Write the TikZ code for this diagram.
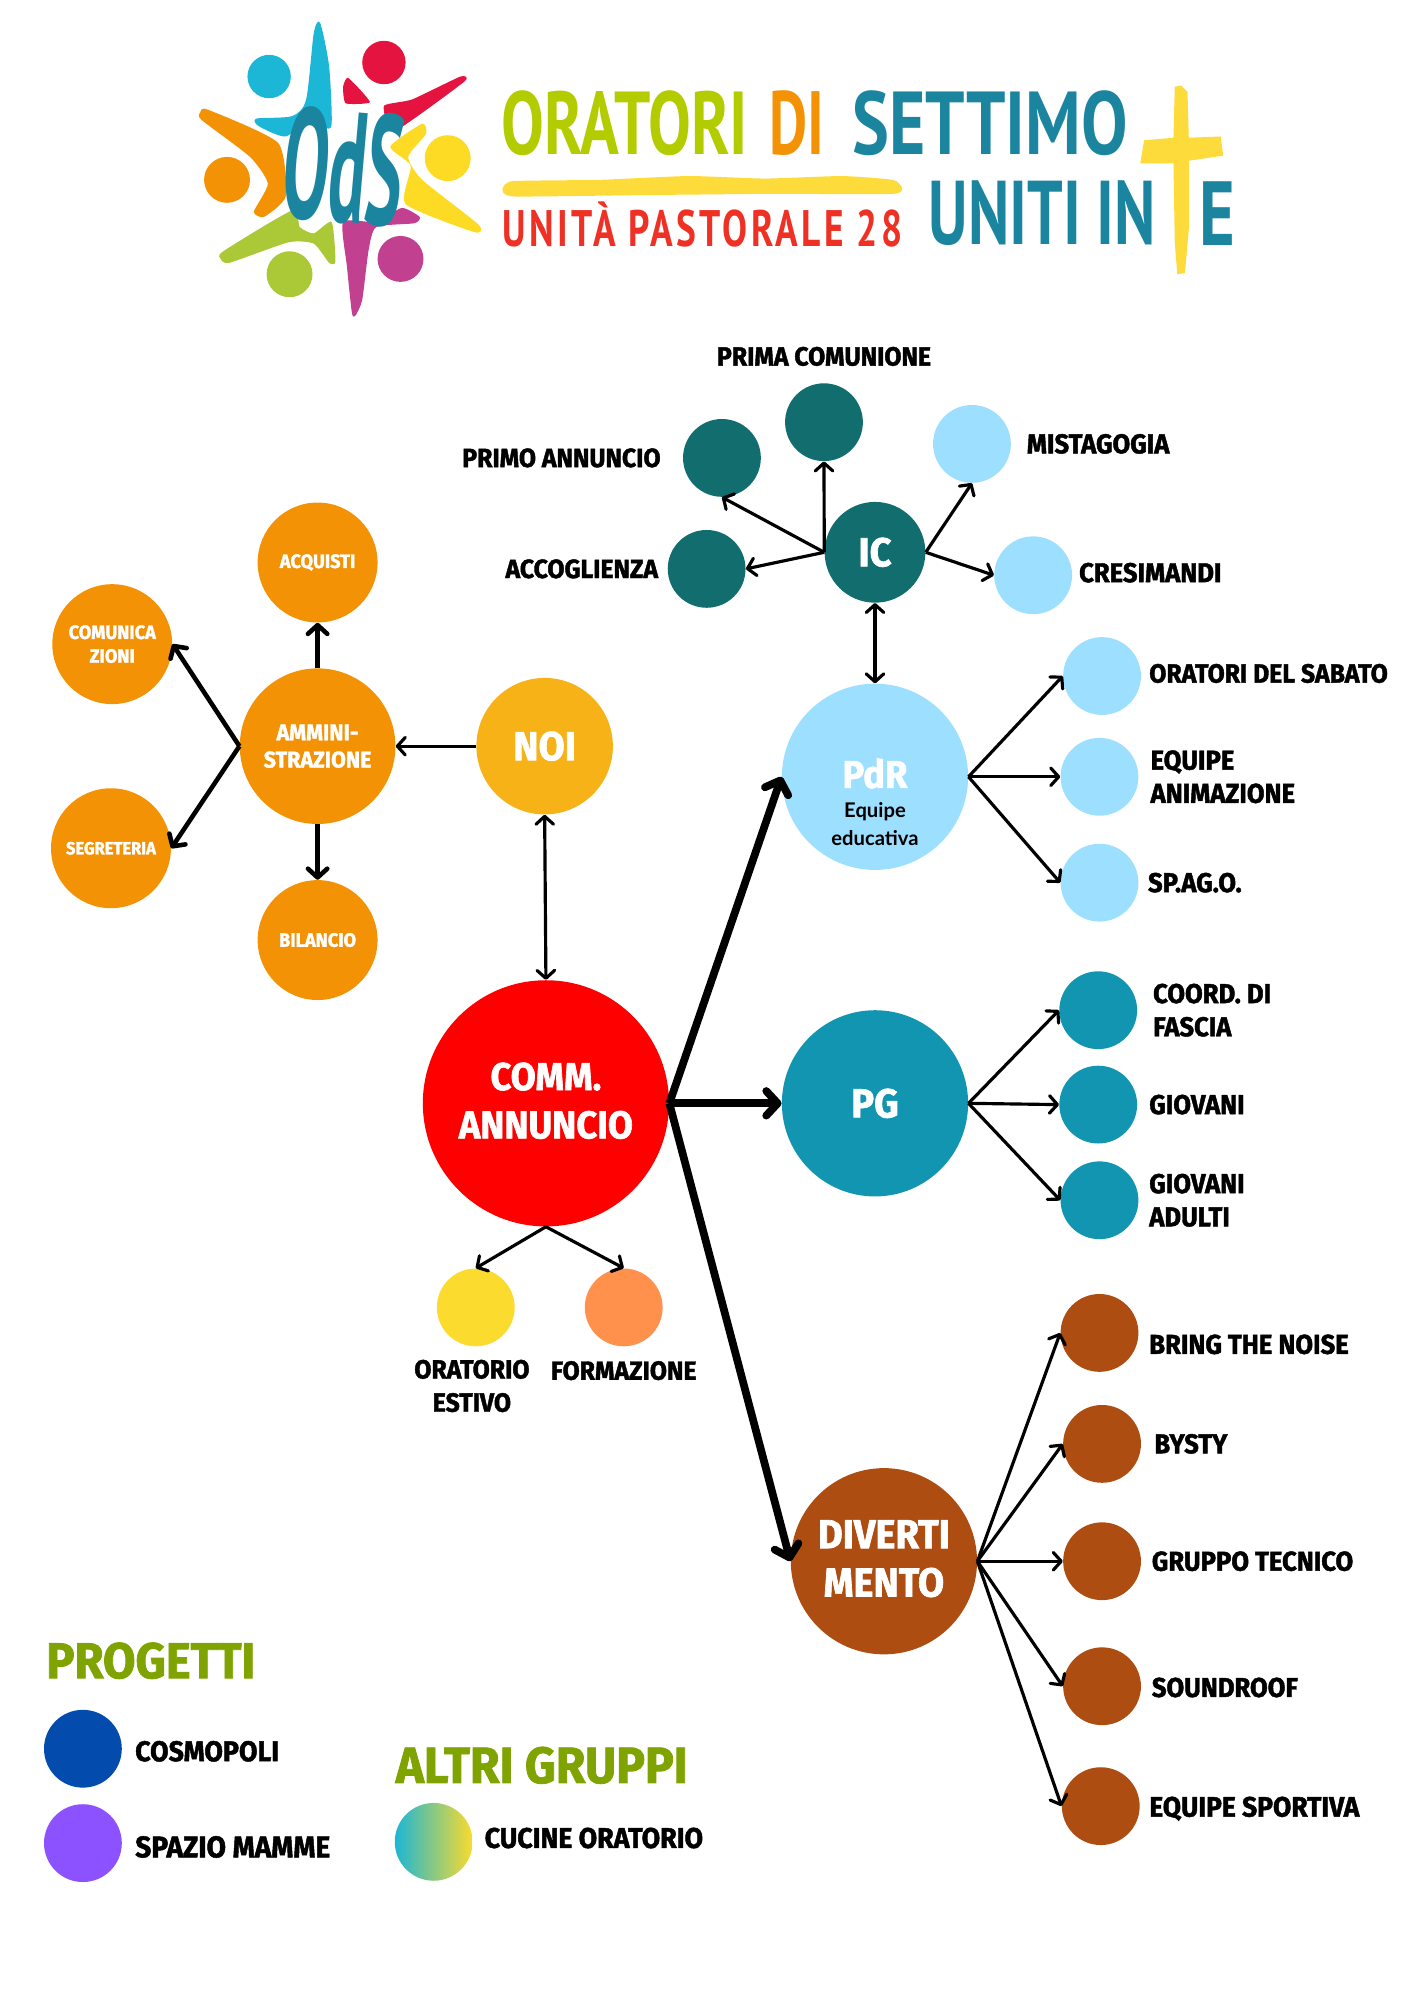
\documentclass[tikz,border=0pt]{standalone}
\usepackage{fontspec}
\setmainfont{Fira Sans}[BoldFeatures={FakeBold=1.6,FakeStretch=.94}]
\newfontfamily\logofont{PT Sans}
\newfontfamily\notefont{Lato}
\usetikzlibrary{arrows.meta, positioning, calc}

\newdimen\pxu
\pxu=0.0255cm
\newcommand{\logotext}[3]{\resizebox{#1\pxu}{#2\pxu}{\logofont\bfseries #3}}
\newcommand{\notetext}[1]{{\notefont\fontsize{11.5}{16.5}\selectfont\bfseries\color{black}#1}}

\definecolor{orangeadm}{HTML}{F39205}
\definecolor{yellownoi}{HTML}{F6B216}
\definecolor{yellowest}{HTML}{FADB2E}
\definecolor{orangefor}{HTML}{FF914D}
\definecolor{lightblue}{HTML}{9CDFFF}
\definecolor{bluepg}{HTML}{1295B0}
\definecolor{tealic}{HTML}{126E6E}
\definecolor{browndiv}{HTML}{AE4D11}
\definecolor{bluecos}{HTML}{034CAD}
\definecolor{violetsp}{HTML}{8C52FF}
\definecolor{greenhead}{HTML}{7FA300}
\definecolor{logoteal}{HTML}{1B85A0}
\definecolor{logoblue}{HTML}{1CB6D6}
\definecolor{logored}{HTML}{E5133F}
\definecolor{logoyellow}{HTML}{FDDB24}
\definecolor{logogreen}{HTML}{ABC837}
\definecolor{logolime}{HTML}{B2CC00}
\definecolor{logomagenta}{HTML}{C14190}
\definecolor{logoscarlet}{HTML}{EE3124}
\definecolor{logobrush}{HTML}{FDDB3A}

\begin{document}
\begin{tikzpicture}[
    x=0.0255cm, y=-0.0255cm,
    dot/.style={circle, inner sep=0pt, minimum size=61\pxu, align=center, text=white, font=\bfseries},
    smalldot/.style={dot, fill=orangeadm, minimum size=94\pxu, font=\fontsize{11}{13.5}\bfseries\selectfont},
    bigdot/.style={dot, minimum size=146\pxu, font=\fontsize{23}{27.5}\bfseries\selectfont},
    tag/.style={inner sep=0pt, align=left, text=black, font=\fontsize{15.5}{18.9}\bfseries\selectfont},
    lefttag/.style={tag, font=\fontsize{15}{18.9}\bfseries\selectfont},
    legendtag/.style={tag, font=\fontsize{16.2}{18.9}\bfseries\selectfont},
    headline/.style={inner sep=0pt, anchor=west, text=greenhead, font=\bfseries},
    thin arrow/.style={->, line width=1.8pt, >={Straight Barb[length=4.5pt, width=10pt, round]}},
    mid arrow/.style={->, line width=2.6pt, >={Straight Barb[length=5pt, width=11pt, round]}},
    big arrow/.style={->, line width=4.4pt, >={Straight Barb[length=6.5pt, width=14pt, round]}}
]
    \useasboundingbox (0,0) rectangle (1109,1568);

    % Logo figures
    \fill[logoblue] (211,60) circle (17);
    \fill[logoblue] plot[smooth cycle, tension=.45] coordinates {(251,18) (258,52) (260,97) (254,100) (240,94) (224,107) (203,99) (201,93) (229,91) (240,78) (246,26)};
    \fill[logored] (301,49) circle (17);
    \fill[logored] plot[smooth cycle, tension=.3] coordinates {(361,60) (364,64) (309,103) (301,83) (323,78)};
    \fill[logored] plot[smooth cycle, tension=.3] coordinates {(273,61) (290,80) (271,81) (269,68)};
    \fill[logoyellow] (351,124) circle (18);
    \fill[logoyellow] plot[smooth cycle, tension=.35] coordinates {(331,97) (334,105) (320,123) (331,141) (375,176) (372,182) (318,160) (322,130) (306,115)};
    \fill[orangeadm] (178,141) circle (18);
    \fill[orangeadm] plot[smooth cycle, tension=.35] coordinates {(157,88) (163,86) (218,112) (224,154) (207,170) (199,166) (210,144) (196,123) (158,94)};
    \fill[logogreen] (227,215) circle (18);
    \fill[logogreen] plot[smooth cycle, tension=.35] coordinates {(229,165) (235,178) (246,183) (260,174) (263,205) (258,206) (246,191) (226,190) (180,206) (173,203) (175,197)};
    \fill[logomagenta] (314,203) circle (18);
    \fill[logomagenta] plot[smooth cycle, tension=.35] coordinates {(269,174) (295,174) (315,163) (329,170) (325,175) (295,178) (289,196) (284,235) (279,247) (276,246) (272,209)};
    \node[inner sep=0pt, text=logoteal, rotate=-5] (logomark) at (270,131) {\resizebox{94\pxu}{88\pxu}{\logofont\bfseries OdS}};

    % Logo lettering
    \fill[logobrush] plot[smooth cycle, tension=.3] coordinates {(394,148) (402,142) (470,141) (540,138) (600,140) (660,138) (700,141) (707,147) (700,152) (600,152) (500,153) (402,154)};
    \fill[logobrush] (921,68) -- (926,67) -- (931,72) -- (932,108) -- (957,107) -- (959,122) -- (932,126) -- (932,180) -- (929,214) -- (923,215) -- (921,190) -- (920,128) -- (894,128) -- (897,110) -- (920,108) -- cycle;
    \node[inner sep=0pt, anchor=south west, text=logolime] (oratori) at (393,122) {\logotext{193}{50}{ORATORI}};
    \node[inner sep=0pt, anchor=south west, text=orangeadm] (di) at (603,122) {\logotext{43}{50}{DI}};
    \node[inner sep=0pt, anchor=south west, text=logoteal] (settimo) at (668,122) {\logotext{216}{50}{SETTIMO}};
    \node[inner sep=0pt, anchor=south west, text=logoscarlet] (unita) at (394,194) {\logotext{313}{35}{\addfontfeature{LetterSpace=9}UNITÀ PASTORALE 28}};
    \node[inner sep=0pt, anchor=south west, text=logoteal] (uniti) at (728,193) {\logotext{178}{50}{UNITI IN}};
    \node[inner sep=0pt, anchor=south west, text=logoteal] (lettere) at (940,193) {\logotext{28}{50}{E}};

    % Amministrazione and NOI
    \node[dot, fill=yellownoi, minimum size=107\pxu, font=\fontsize{23}{27}\bfseries\selectfont] (noi) at (427,585) {NOI};
    \node[dot, fill=orangeadm, minimum size=122\pxu, font=\fontsize{13}{15.5}\bfseries\selectfont] (amm) at (249,585) {AMMINI-\\STRAZIONE};
    \node[smalldot] (acquisti) at (249,441) {ACQUISTI};
    \node[smalldot] (comunica) at (88,505) {COMUNICA\\ZIONI};
    \node[smalldot, font=\fontsize{10}{13.5}\bfseries\selectfont] (segreteria) at (87,665) {SEGRETERIA};
    \node[smalldot] (bilancio) at (249,737) {BILANCIO};

    % Commissione
    \node[dot, fill=red, minimum size=193\pxu] (comm) at (428,865) {};
    \node[inner sep=0pt, align=center, text=white, font=\fontsize{22}{27.5}\bfseries\selectfont] (commtext) at (428,863) {COMM.\\ANNUNCIO};
    \node[dot, fill=yellowest] (estivo) at (373,1025) {};
    \node[dot, fill=orangefor] (formazione) at (489,1025) {};
    \node[lefttag, align=center, below=10\pxu of estivo, xshift=-3\pxu] (estivotag) {ORATORIO\\ESTIVO};
    \node[lefttag, below=11\pxu of formazione] (formazionetag) {FORMAZIONE};

    % IC
    \node[dot, fill=tealic, minimum size=79\pxu, font=\fontsize{23}{25}\bfseries\selectfont] (ic) at (686,433) {IC};
    \node[dot, fill=tealic] (accoglienza) at (554,446) {};
    \node[dot, fill=tealic] (primo) at (566,359) {};
    \node[dot, fill=tealic] (prima) at (646,331) {};
    \node[dot, fill=lightblue] (mistagogia) at (762,348) {};
    \node[dot, fill=lightblue] (cresimandi) at (810,451) {};
    \node[lefttag, left=7\pxu of accoglienza] (accoglienzatag) {ACCOGLIENZA};
    \node[lefttag, left=17\pxu of primo] (primotag) {PRIMO ANNUNCIO};
    \node[lefttag, above=13\pxu of prima] (primatag) {PRIMA COMUNIONE};
    \node[tag, right=12\pxu of mistagogia] (mistagogiatag) {MISTAGOGIA};
    \node[tag, right=5\pxu of cresimandi, yshift=2\pxu] (cresimanditag) {CRESIMANDI};

    % PdR
    \node[bigdot, fill=lightblue] (pdr) at (686,609) {};
    \node[inner sep=0pt, align=center, text=white, font=\fontsize{22}{27.5}\bfseries\selectfont] (pdrtext) at (686,629) {PdR\\[-10.5pt]\notetext{Equipe}\\[-11.5pt]\notetext{educativa}};
    \node[dot, fill=lightblue] (sabato) at (864,530) {};
    \node[dot, fill=lightblue] (animazione) at (862,609) {};
    \node[dot, fill=lightblue] (spago) at (862,692) {};
    \node[lefttag, right=6\pxu of sabato, yshift=2\pxu] (sabatotag) {ORATORI DEL SABATO};
    \node[tag, right=9\pxu of animazione] (animazionetag) {EQUIPE\\ANIMAZIONE};
    \node[tag, right=7\pxu of spago] (spagotag) {SP.AG.O.};

    % PG
    \node[bigdot, fill=bluepg] (pg) at (686,865) {PG};
    \node[dot, fill=bluepg] (coord) at (861,792) {};
    \node[dot, fill=bluepg] (giovani) at (861,866) {};
    \node[dot, fill=bluepg] (adulti) at (862,941) {};
    \node[tag, right=12\pxu of coord] (coordtag) {COORD. DI\\FASCIA};
    \node[tag, right=9\pxu of giovani] (giovanitag) {GIOVANI};
    \node[tag, right=8\pxu of adulti] (adultitag) {GIOVANI\\ADULTI};

    % Divertimento
    \node[bigdot, fill=browndiv] (div) at (693,1224) {};
    \node[inner sep=0pt, align=center, text=white, font=\fontsize{23}{27.5}\bfseries\selectfont] (divtext) at (693,1222) {DIVERTI\\MENTO};
    \node[dot, fill=browndiv] (bring) at (862,1045) {};
    \node[dot, fill=browndiv] (bysty) at (864,1132) {};
    \node[dot, fill=browndiv] (tecnico) at (864,1224) {};
    \node[dot, fill=browndiv] (soundroof) at (864,1322) {};
    \node[dot, fill=browndiv] (sportiva) at (863,1416) {};
    \node[tag, right=8\pxu of bring, yshift=-9\pxu] (bringtag) {BRING THE NOISE};
    \node[tag, right=10\pxu of bysty] (bystytag) {BYSTY};
    \node[tag, right=8\pxu of tecnico] (tecnicotag) {GRUPPO TECNICO};
    \node[tag, right=8\pxu of soundroof, yshift=-1\pxu] (soundrooftag) {SOUNDROOF};
    \node[tag, right=7\pxu of sportiva, yshift=-2\pxu, font=\fontsize{16}{18.9}\bfseries\selectfont] (sportivatag) {EQUIPE SPORTIVA};

    % Legend
    \node[headline, font=\fontsize{28.5}{30}\bfseries\selectfont] (progetti) at (36,1302) {PROGETTI};
    \node[dot, fill=bluecos] (cosmopoli) at (65,1371) {};
    \node[dot, fill=violetsp] (spazio) at (65,1445) {};
    \node[legendtag, right=10\pxu of cosmopoli, yshift=-2\pxu] (cosmopolitag) {COSMOPOLI};
    \node[legendtag, right=10\pxu of spazio, yshift=-3\pxu, font=\fontsize{17}{18.9}\bfseries\selectfont] (spaziotag) {SPAZIO MAMME};
    \node[headline, font=\fontsize{29}{30}\bfseries\selectfont] (altri) at (310,1384) {ALTRI GRUPPI};
    \node[dot, left color=logoblue, right color=yellowest] (cucine) at (340,1444) {};
    \node[legendtag, right=9\pxu of cucine, yshift=3\pxu] (cucinetag) {CUCINE ORATORIO};

    % Connectors
    \draw[thin arrow] (noi.west) -- (amm.east);
    \draw[mid arrow] (amm.north) -- (acquisti.south);
    \draw[mid arrow] (amm.west) -- (comunica.east);
    \draw[mid arrow] (amm.west) -- (segreteria.east);
    \draw[mid arrow] (amm.south) -- (bilancio.north);
    \draw[thin arrow, <->] (noi.south) -- (comm.north);

    \draw[big arrow] (comm.east) -- (pdr.west);
    \draw[big arrow] (comm.east) -- (pg.west);
    \draw[big arrow] (comm.east) -- (div.west);
    \draw[thin arrow] (comm.south) -- (estivo.north);
    \draw[thin arrow] (comm.south) -- (formazione.north);

    \draw[thin arrow, <->] (ic.south) -- (pdr.north);
    \draw[thin arrow] (ic.west) -- (accoglienza.east);
    \draw[thin arrow] (ic.west) -- (primo.south);
    \draw[thin arrow] (ic.west) -- (prima.south);
    \draw[thin arrow] (ic.east) -- (mistagogia.south);
    \draw[thin arrow] (ic.east) -- (cresimandi.west);

    \draw[thin arrow] (pdr.east) -- (sabato.west);
    \draw[thin arrow] (pdr.east) -- (animazione.west);
    \draw[thin arrow] (pdr.east) -- (spago.west);

    \draw[thin arrow] (pg.east) -- (coord.west);
    \draw[thin arrow] (pg.east) -- (giovani.west);
    \draw[thin arrow] (pg.east) -- (adulti.west);

    \draw[thin arrow] (div.east) -- (bring.west);
    \draw[thin arrow] (div.east) -- (bysty.west);
    \draw[thin arrow] (div.east) -- (tecnico.west);
    \draw[thin arrow] (div.east) -- (soundroof.west);
    \draw[thin arrow] (div.east) -- (sportiva.west);

\end{tikzpicture}
\end{document}
